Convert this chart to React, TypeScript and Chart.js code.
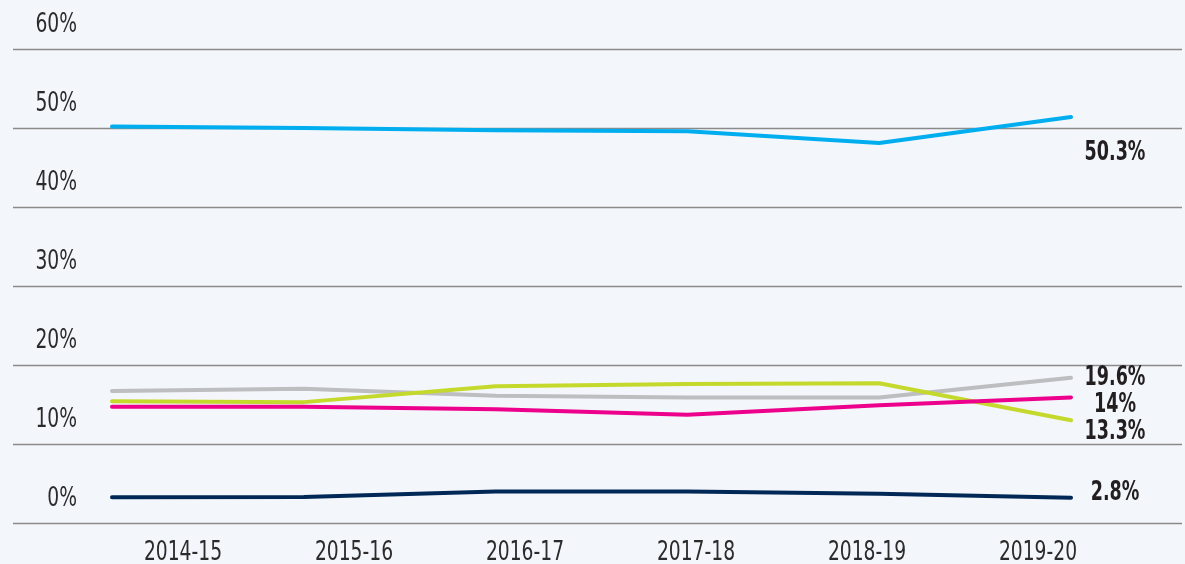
import React, { useEffect, useRef } from "react";
import { Chart, registerables } from "chart.js";

Chart.register(...registerables);

const categories = ["2014-15", "2015-16", "2016-17", "2017-18", "2018-19", "2019-20"];
const yTicks = [0, 10, 20, 30, 40, 50, 60];

const seriesBlue = [50.2, 50.0, 49.7, 49.6, 48.1, 51.4];
const seriesGray = [16.7, 17.0, 16.1, 15.9, 15.9, 18.4];
const seriesGreen = [15.4, 15.3, 17.3, 17.6, 17.7, 13.0];
const seriesPink = [14.7, 14.7, 14.4, 13.7, 14.9, 15.9];
const seriesNavy = [3.25, 3.3, 4.0, 4.0, 3.7, 3.2];

const endLabels = ["50.3%", "19.6%", "14%", "13.3%", "2.8%"];

const FONT = "'Liberation Sans Narrow', 'DejaVu Sans Condensed', 'Roboto', sans-serif";
const BG = "#f3f6fb";

function drawText(ctx: CanvasRenderingContext2D, text: string, x: number, y: number, align: CanvasTextAlign, sx: number) {
  ctx.save();
  ctx.translate(x, y);
  ctx.scale(sx, 1);
  ctx.textAlign = align;
  ctx.textBaseline = "middle";
  ctx.fillText(text, 0, 0);
  ctx.restore();
}

export default function App() {
  const canvasRef = useRef<HTMLCanvasElement | null>(null);

  useEffect(() => {
    const canvas = canvasRef.current;
    if (!canvas) return;

    const gridPlugin = {
      id: "fullGrid",
      beforeDatasetsDraw(chart: any) {
        const { ctx } = chart;
        const y = chart.scales.y;
        const xl = chart.scales.xLabels;
        ctx.save();
        ctx.strokeStyle = "#8a8a8a";
        ctx.lineWidth = 1.6;
        y.ticks.forEach((t: any) => {
          const py = Math.round(y.getPixelForValue(t.value)) + 0.5;
          ctx.beginPath();
          ctx.moveTo(13, py);
          ctx.lineTo(chart.width - 3, py);
          ctx.stroke();
        });
        // axis texts
        ctx.fillStyle = "#2b2b2b";
        ctx.font = `normal 26px ${FONT}`;
        y.ticks.forEach((t: any) => {
          const py = y.getPixelForValue(t.value);
          drawText(ctx, `${t.value}%`, 77, py - 24, "right", 0.8);
        });
        categories.forEach((c, i) => {
          drawText(ctx, c, xl.getPixelForValue(i), chart.chartArea.bottom + 30, "center", 0.8);
        });
        ctx.restore();
      },
    };

    const labelDy = [36, 1, 8, 12, -4];
    const endLabelPlugin = {
      id: "endLabels",
      afterDatasetsDraw(chart: any) {
        const { ctx } = chart;
        ctx.save();
        ctx.font = `bold 26px ${FONT}`;
        ctx.fillStyle = "#231f20";
        chart.data.datasets.forEach((ds: any, i: number) => {
          const meta = chart.getDatasetMeta(i);
          const last = meta.data[meta.data.length - 1];
          if (!last) return;
          drawText(ctx, endLabels[i], last.x + 44, last.y + labelDy[i], "center", 0.75);
        });
        ctx.restore();
      },
    };

    const chart = new Chart(canvas, {
      type: "line",
      data: {
        labels: categories,
        datasets: [
          { label: "blue", data: seriesBlue, borderColor: "#00aeef", order: 0 },
          { label: "gray", data: seriesGray, borderColor: "#bcbec0", order: 4 },
          { label: "pink", data: seriesPink, borderColor: "#ec008c", order: 2 },
          { label: "green", data: seriesGreen, borderColor: "#c5d92d", order: 3 },
          { label: "navy", data: seriesNavy, borderColor: "#002857", order: 1 },
        ].map((d) => ({
          ...d,
          borderWidth: 4,
          pointRadius: 0,
          tension: 0,
          fill: false,
          borderCapStyle: "round" as const,
          borderJoinStyle: "round" as const,
        })),
      },
      options: {
        animation: false,
        responsive: false,
        maintainAspectRatio: false,
        layout: { padding: { left: 112, right: 114, top: 49, bottom: 41 } },
        plugins: { legend: { display: false }, tooltip: { enabled: false } },
        scales: {
          x: {
            type: "category",
            offset: false,
            display: false,
          },
          xLabels: {
            type: "linear",
            position: "bottom",
            display: false,
            min: -0.415,
            max: 5.193,
          },
          y: {
            min: 0,
            max: 60,
            display: false,
            afterBuildTicks: (scale: any) => {
              scale.ticks = yTicks.map((v) => ({ value: v }));
            },
          },
        },
      },
      plugins: [gridPlugin, endLabelPlugin],
    });

    return () => chart.destroy();
  }, []);

  return (
    <div style={{ position: "fixed", left: 0, top: 0, width: 1185, height: 564, background: BG }}>
      <canvas ref={canvasRef} width={1185} height={564} style={{ display: "block" }} />
    </div>
  );
}
